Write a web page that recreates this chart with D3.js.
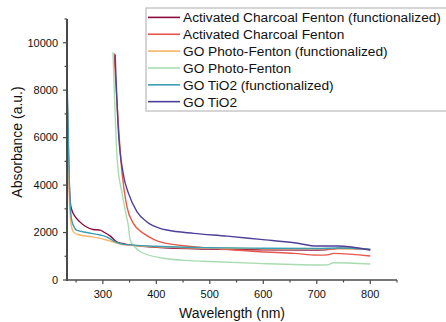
<!DOCTYPE html>
<html><head><meta charset="utf-8">
<script src="https://cdn.jsdelivr.net/npm/d3@7"></script>
<style>body{margin:0;background:#fff;} svg{display:block;font-family:Arial,'Liberation Sans',sans-serif;}</style>
</head><body>
<svg id="c" width="446" height="322"></svg>
<script>
const seriesNames = [
  "Activated Charcoal Fenton (functionalized)",
  "Activated Charcoal Fenton",
  "GO Photo-Fenton (functionalized)",
  "GO Photo-Fenton",
  "GO TiO2 (functionalized)",
  "GO TiO2"
];
const seriesColors = ["#8c0a3c", "#e8574a", "#f9b46e", "#a8dcb0", "#3b9fb0", "#4e3f98"];

const acFentonFuncWl  = [233,235,237,239,242,246,257,282,295,301,314,326,336,360,400,500,600,700,730,740,800];
const acFentonFuncVal = [8200,6000,4200,3300,2950,2750,2450,2130,2100,2030,1850,1610,1540,1450,1380,1300,1270,1260,1300,1340,1280];

const acFentonWl  = [321,336,345,357,376,398,407,470,533,595,658,701,720,732,800];
const acFentonVal = [9550,4490,3090,2385,1965,1685,1610,1400,1290,1190,1120,1050,1060,1120,1010];

const goPFFuncWl  = [233,235,237,239,242,246,257,280,295,319,340,400,500,600,700,800];
const goPFFuncVal = [7500,5200,3600,2700,2200,2000,1895,1820,1755,1610,1480,1400,1340,1320,1310,1300];

const goPFWl  = [319,327,336,343,348,351,357,370,407,464,500,589,713,722,732,800];
const goPFVal = [9600,5050,3650,2810,2245,1685,1475,1190,940,815,780,700,630,650,730,675];

const goTiO2FuncWl  = [233,235,237,239,242,246,251,270,295,307,323,340,400,500,600,700,740,800];
const goTiO2FuncVal = [8700,6500,4500,3200,2500,2250,2100,2000,1895,1820,1610,1500,1420,1360,1340,1330,1350,1300];

const goTiO2Wl  = [323,329,338,348,364,382,407,420,470,533,595,658,701,739,800];
const goTiO2Val = [9510,6315,4490,3650,2875,2455,2175,2105,1965,1850,1710,1570,1430,1430,1263];

const xTicks = [300,400,500,600,700,800];
const yTicks = [0,2000,4000,6000,8000,10000];

const seriesData = [
  [acFentonFuncWl, acFentonFuncVal],
  [acFentonWl, acFentonVal],
  [goPFFuncWl, goPFFuncVal],
  [goPFWl, goPFVal],
  [goTiO2FuncWl, goTiO2FuncVal],
  [goTiO2Wl, goTiO2Val]
];

const svg = d3.select("#c");
const x = d3.scaleLinear().domain([233, 850]).range([67, 397]);
const y = d3.scaleLinear().domain([0, 11000]).range([280, 19]);

const axisColor = "#4a4a4a";

// lines
const line = d3.line().x(d => x(d[0])).y(d => y(d[1])).curve(d3.curveMonotoneX);
const g = svg.append("g");
seriesData.forEach((s, i) => {
  const pts = s[0].map((w, j) => [w, s[1][j]]);
  g.append("path").datum(pts).attr("d", line)
    .attr("fill", "none").attr("stroke", seriesColors[i]).attr("stroke-width", 1.4);
});

// x axis
const xa = svg.append("g").attr("transform", "translate(0,280)");
xa.append("line").attr("x1", 66).attr("x2", 397).attr("stroke", axisColor).attr("stroke-width", 1.6);
d3.range(250, 851, 50).forEach(v => {
  const major = v % 100 === 0;
  xa.append("line").attr("x1", x(v)).attr("x2", x(v)).attr("y1", 0).attr("y2", major ? 4 : 2.5)
    .attr("stroke", axisColor).attr("stroke-width", 1.2);
});
xTicks.forEach(v => {
  xa.append("text").attr("x", x(v)).attr("y", 18).attr("text-anchor", "middle")
    .attr("font-size", 11).attr("fill", "#111").text(v);
});

// y axis
const ya = svg.append("g").attr("transform", "translate(67,0)");
ya.append("line").attr("y1", 19).attr("y2", 281).attr("stroke", axisColor).attr("stroke-width", 2);
d3.range(0, 11001, 1000).forEach(v => {
  const major = v % 2000 === 0;
  ya.append("line").attr("x1", 0).attr("x2", major ? -4 : -2.5).attr("y1", y(v)).attr("y2", y(v))
    .attr("stroke", axisColor).attr("stroke-width", 1.2);
});
yTicks.forEach(v => {
  ya.append("text").attr("x", -9).attr("y", y(v)).attr("dy", "0.35em").attr("text-anchor", "end")
    .attr("font-size", 11).attr("fill", "#111").text(v);
});

// axis titles
svg.append("text").attr("x", 232).attr("y", 318).attr("text-anchor", "middle")
  .attr("font-size", 14).attr("fill", "#111").text("Wavelength (nm)");
svg.append("text").attr("transform", "translate(22,142) rotate(-90)").attr("text-anchor", "middle")
  .attr("font-size", 14).attr("fill", "#111").text("Absorbance (a.u.)");

// legend
const lg = svg.append("g");
lg.append("rect").attr("x", 146).attr("y", 8).attr("width", 302).attr("height", 103)
  .attr("fill", "#fff").attr("stroke", "#c8c8c8").attr("stroke-width", 1.5);
seriesNames.forEach((n, i) => {
  const yy = 17.4 + i * 16.85;
  lg.append("line").attr("x1", 148).attr("x2", 180).attr("y1", yy).attr("y2", yy)
    .attr("stroke", seriesColors[i]).attr("stroke-width", 1.6);
  lg.append("text").attr("x", 183).attr("y", yy).attr("dy", "0.36em")
    .attr("font-size", 13.7).attr("fill", "#111").text(n);
});
</script>
</body></html>
